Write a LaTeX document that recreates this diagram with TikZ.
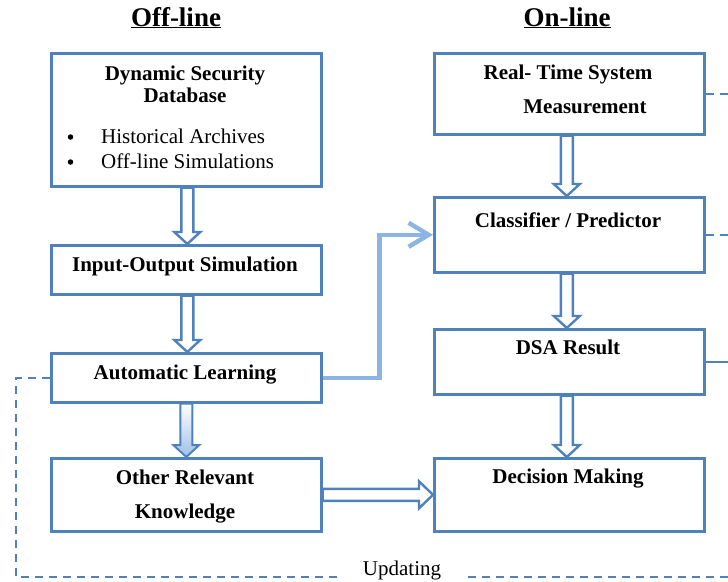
\documentclass[tikz,border=0pt]{standalone}
\usepackage{fontspec}
\setmainfont{Liberation Serif}
\usetikzlibrary{calc,arrows.meta,shadows}
\definecolor{bblue}{HTML}{4F81BD}
\definecolor{lblue}{HTML}{8DB4E2}
\newcommand\vhollow[4][harrow]{\path[#1] let \p1=($(#2.south)+(#4,0)$), \p2=($(#3.north)+(#4,0)$) in
  (\x1-6pt,\y1) -- (\x1+6pt,\y1) -- (\x1+6pt,\y2+12pt) -- (\x1+13pt,\y2+12pt) -- (\x1,\y2)
  -- (\x1-13pt,\y2+12pt) -- (\x1-6pt,\y2+12pt) -- cycle;}
\newcommand\hhollow[2]{\path[harrow] let \p1=(#1.east), \p2=(#2.west) in
  (\x1,\y1+6pt) -- (\x2-14pt,\y1+6pt) -- (\x2-14pt,\y1+13.5pt) -- (\x2,\y1)
  -- (\x2-14pt,\y1-13.5pt) -- (\x2-14pt,\y1-6pt) -- (\x1,\y1-6pt) -- cycle;}
\begin{document}
\begin{tikzpicture}[x=1pt,y=-1pt,
 box/.style={draw=bblue, line width=2.6pt, fill=white, inner sep=0pt, anchor=north west,
   drop shadow={shadow xshift=1.5pt, shadow yshift=-2pt, opacity=0.3, fill=black!50}},
 txt/.style={anchor=base, inner sep=0pt, font=\fontsize{21}{25}\selectfont\bfseries},
 ntxt/.style={anchor=base west, inner sep=0pt, font=\fontsize{21}{25}\selectfont},
 bul/.style={circle, fill=black, inner sep=0pt, minimum size=5.5pt},
 ttl/.style={anchor=base, inner sep=0pt, font=\fontsize{27}{30}\selectfont\bfseries},
 harrow/.style={draw=bblue, line width=2.4pt, fill=white, line join=miter},
 garrow/.style={draw=bblue, line width=2pt, top color=white, bottom color=lblue!85, line join=miter},
 upd/.style={draw=bblue, line width=2.5pt, dash pattern=on 8pt off 6pt},
 feed/.style={draw=lblue, line width=4.5pt, line join=miter, -{Straight Barb[length=20pt,width=24pt]}}
]
\useasboundingbox (0,0) rectangle (728,581);

% boxes
\node[box, minimum width=270pt, minimum height=133pt] (dsd) at (50,52) {};
\node[box, minimum width=270pt, minimum height=49pt] (ios) at (50,244) {};
\node[box, minimum width=270pt, minimum height=49pt] (al) at (50,352) {};
\node[box, minimum width=270pt, minimum height=73pt] (ork) at (50,457) {};
\node[box, minimum width=270pt, minimum height=81pt] (rtsm) at (433,52) {};
\node[box, minimum width=270pt, minimum height=75pt] (cp) at (433,196) {};
\node[box, minimum width=270pt, minimum height=65pt] (dsa) at (433,328) {};
\node[box, minimum width=270pt, minimum height=73pt] (dm) at (433,457) {};

% titles
\node[ttl] (off) at (176,26) {\underline{Off-line}};
\node[ttl] (on) at (567,26) {\underline{On-line}};

% texts
\node[txt] (dsd1) at (185,80) {Dynamic Security};
\node[txt] (dsd2) at (185,102) {Database};
\node[bul] (bul1) at (70.5,137) {};
\node[ntxt] (hist) at (101,143) {Historical Archives};
\node[bul] (bul2) at (70.5,162) {};
\node[ntxt] (offs) at (101,168) {Off-line Simulations};
\node[txt] (iot) at (185,271) {Input-Output Simulation};
\node[txt] (alt) at (185,379) {Automatic Learning};
\node[txt] (ork1) at (185,484) {Other Relevant};
\node[txt] (ork2) at (185,518) {Knowledge};
\node[txt] (rt1) at (568,79) {Real- Time System};
\node[txt] (rt2) at (585,113) {Measurement};
\node[txt] (cpt) at (568,227) {Classifier / Predictor};
\node[txt] (dsat) at (568,354) {DSA Result};
\node[txt] (dmt) at (568,483) {Decision Making};
\node[anchor=base, inner sep=0pt, font=\fontsize{21}{25}\selectfont] (updt) at (402,575) {Updating};

% hollow arrows
\vhollow{dsd}{ios}{1}
\vhollow{ios}{al}{1}
\vhollow[garrow]{al}{ork}{0}
\vhollow{rtsm}{cp}{-2.5}
\vhollow{cp}{dsa}{-2.5}
\vhollow{dsa}{dm}{-2.5}
\hhollow{ork}{dm}

% feed from automatic learning to classifier
\draw[feed] (al.east) -- ++(57,0) |- (cp.west);

% updating loop
\coordinate (ul) at (337,577);
\coordinate (ur) at (468,577);
\coordinate (ue) at (728,577);
\draw[upd] (al.west) -- ++(-34,0) |- (ul);
\draw[upd] (ur) -- (ue);
\draw[upd] (rtsm.east) -- ++(26,0);
\draw[upd] (cp.east) -- ++(26,0);
\draw[draw=bblue, line width=2.5pt] (dsa.east) -- ++(26,0);
\end{tikzpicture}
\end{document}
